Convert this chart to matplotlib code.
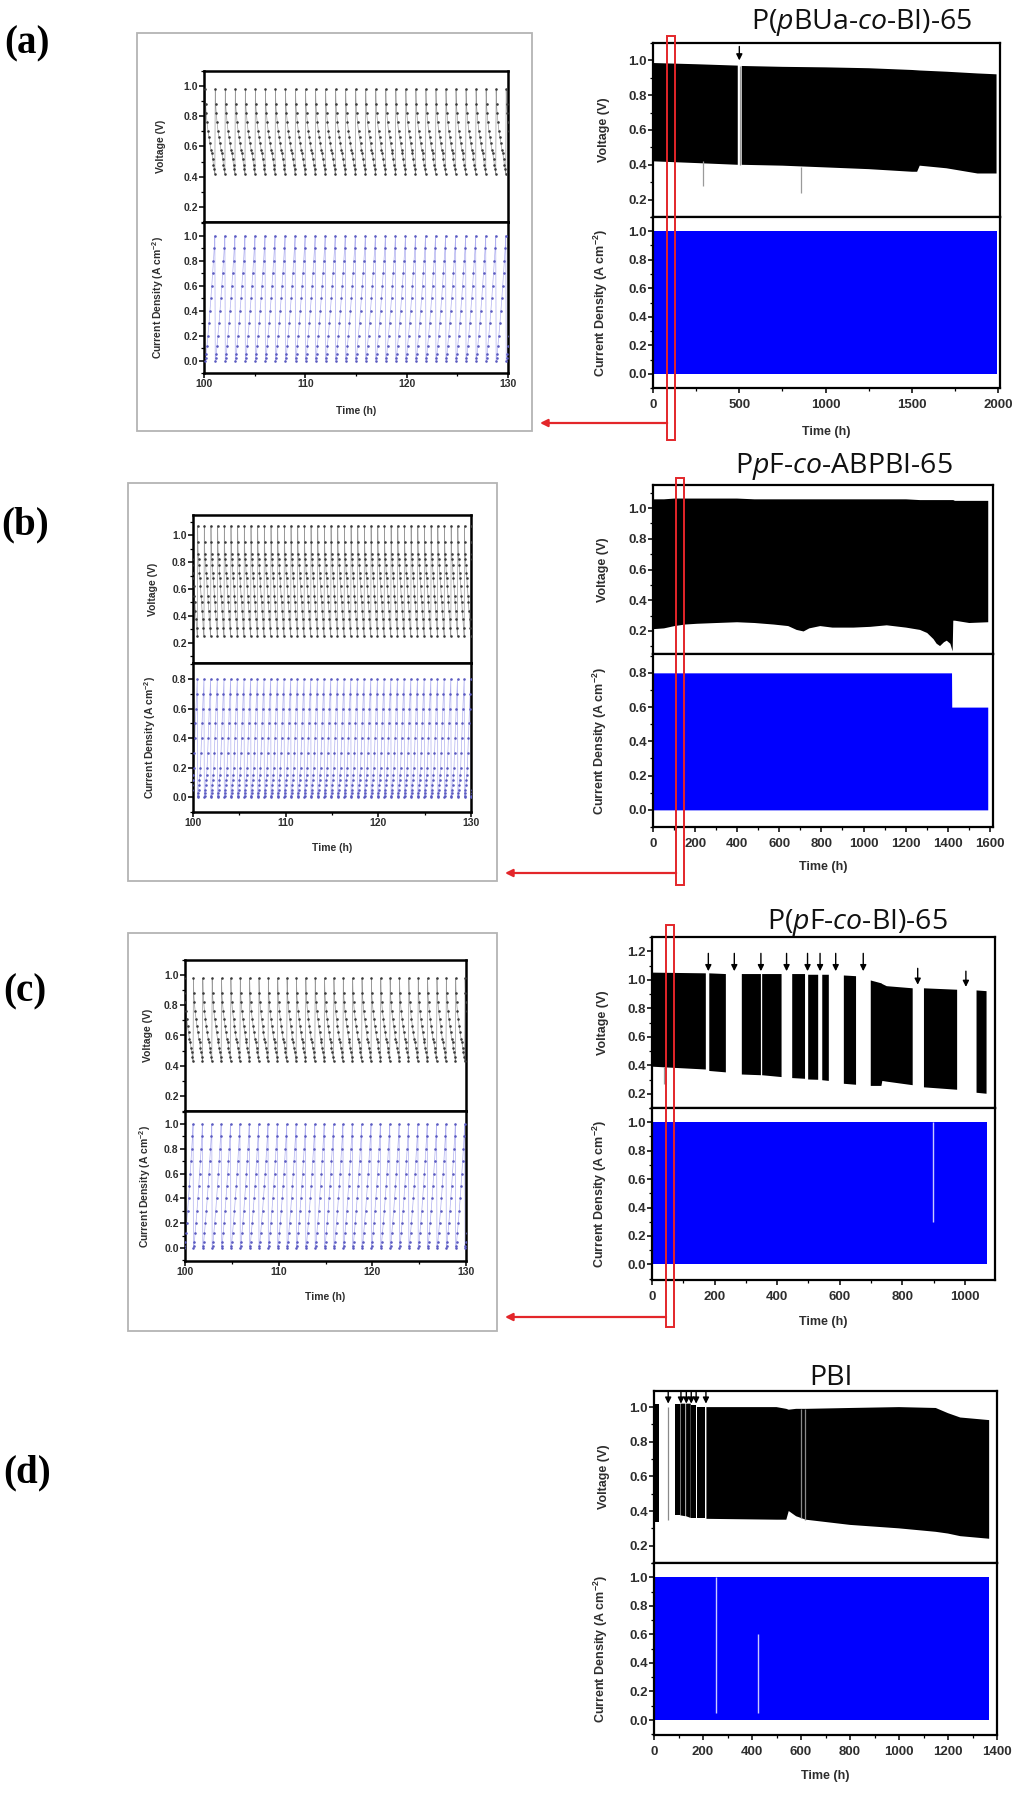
import numpy as np
import matplotlib
matplotlib.use('Agg')
import matplotlib.pyplot as plt
from matplotlib.patches import Rectangle, FancyArrowPatch
from matplotlib.ticker import MultipleLocator, FormatStrFormatter

nan = np.nan

# ---------------- data ----------------
titles = [r'P($\mathit{p}$BUa-$\mathit{co}$-BI)-65', r'P$\mathit{p}$F-$\mathit{co}$-ABPBI-65',
          r'P($\mathit{p}$F-$\mathit{co}$-BI)-65', 'PBI']
panel_labels = ['(a)', '(b)', '(c)', '(d)']

# long-term voltage envelopes (upper / lower edge of the cycling band)
a_t = [0, 250, 491, 502, 514, 750, 1000, 1250, 1500, 1530, 1545, 1700, 1880, 1990]
a_up = [0.985, 0.978, 0.97, nan, 0.968, 0.963, 0.96, 0.955, 0.945, 0.943, 0.942, 0.935, 0.925, 0.92]
a_lo = [0.42, 0.41, 0.40, nan, 0.40, 0.395, 0.385, 0.375, 0.36, 0.36, 0.395, 0.38, 0.35, 0.35]

b_t = [0, 50, 100, 150, 207, 300, 397, 480, 571, 640, 680, 713, 740, 792, 850, 950,
       1030, 1108, 1200, 1266, 1300, 1330, 1345, 1361, 1380, 1393, 1410, 1421, 1424, 1432, 1500, 1590]
b_up = [1.06, 1.06, 1.065, 1.065, 1.065, 1.065, 1.065, 1.06, 1.06, 1.06, 1.06, 1.06, 1.06, 1.06, 1.06, 1.06,
        1.06, 1.06, 1.06, 1.055, 1.055, 1.055, 1.055, 1.055, 1.055, 1.055, 1.055, 1.055, 1.055, 1.05, 1.05, 1.05]
b_lo = [0.215, 0.22, 0.235, 0.245, 0.25, 0.255, 0.26, 0.255, 0.245, 0.235, 0.21, 0.20, 0.22, 0.235, 0.225, 0.225,
        0.23, 0.24, 0.225, 0.21, 0.19, 0.15, 0.12, 0.105, 0.13, 0.14, 0.12, 0.07, 0.27, 0.27, 0.255, 0.26]

c_t = [0, 172, 177, 183, 236, 260, 287, 348, 350, 352, 414, 430, 448, 489, 494, 499, 531, 537, 544, 565,
       590, 613, 652, 675, 699, 733, 736, 750, 833, 850, 869, 975, 1005, 1037, 1069]
c_up = [1.05, 1.045, nan, 1.045, 1.04, nan, 1.04, 1.04, nan, 1.04, 1.04, nan, 1.04, 1.04, nan, 1.035, 1.035, nan,
        1.035, 1.035, nan, 1.03, 1.025, nan, 0.995, 0.975, 0.97, 0.955, 0.94, nan, 0.94, 0.93, nan, 0.925, 0.92]
c_lo = [0.39, 0.37, nan, 0.36, 0.35, nan, 0.335, 0.33, nan, 0.33, 0.317, nan, 0.31, 0.305, nan, 0.30, 0.298, nan,
        0.295, 0.29, nan, 0.27, 0.263, nan, 0.255, 0.255, 0.29, 0.285, 0.26, nan, 0.245, 0.228, nan, 0.207, 0.20]

d_t = [0, 22, 50, 85, 105, 106, 108, 128, 129, 131, 150, 151, 153, 170, 172, 175, 208, 211, 214,
       500, 540, 550, 580, 620, 800, 1000, 1150, 1200, 1250, 1368]
d_up = [1.02, 1.02, nan, 1.02, 1.02, nan, 1.02, 1.02, nan, 1.02, 1.02, nan, 1.01, 1.01, nan, 1.0, 1.0, nan, 1.0,
        1.0, 0.99, 0.985, 0.99, 0.99, 0.995, 1.0, 0.995, 0.965, 0.94, 0.925]
d_lo = [0.335, 0.335, nan, 0.375, 0.375, nan, 0.375, 0.37, nan, 0.37, 0.36, nan, 0.36, 0.36, nan, 0.36, 0.36, nan,
        0.355, 0.35, 0.35, 0.40, 0.37, 0.35, 0.32, 0.30, 0.28, 0.27, 0.255, 0.24]

# long-term current density (upper edge of band, lower edge at 0)
a_jt = [0, 1995]
a_jhi = [1.0, 1.0]
b_jt = [0, 1418, 1419, 1590]
b_jhi = [0.8, 0.8, 0.6, 0.6]
c_jt = [0, 1072]
c_jhi = [1.0, 1.0]
d_jt = [0, 1368]
d_jhi = [1.0, 1.0]

# isolated traces in voltage plots (grey) and gaps in current plots (light)
a_vline_t = [289, 855, 502]
a_vline_lo = [0.28, 0.24, 0.40]
a_vline_hi = [0.42, 0.39, 0.97]
c_vline_t = [38]
c_vline_lo = [0.27]
c_vline_hi = [0.39]
d_vline_t = [59, 598, 618]
d_vline_lo = [0.35, 0.36, 0.35]
d_vline_hi = [1.0, 0.99, 0.99]
c_jgap_t = [899]
c_jgap_lo = [0.3]
c_jgap_hi = [1.0]
d_jgap_t = [254, 424]
d_jgap_lo = [0.05, 0.05]
d_jgap_hi = [1.0, 0.6]

# arrows marking interruptions
a_arrow_t = [500]
a_arrow_tip = [1.0]
a_arrow_tail = [1.08]
c_arrow_t = [180, 263, 348, 430, 497, 537, 587, 675, 849, 1003]
c_arrow_tip = [1.06, 1.06, 1.06, 1.06, 1.06, 1.06, 1.06, 1.06, 0.965, 0.95]
c_arrow_tail = [1.185, 1.185, 1.185, 1.185, 1.185, 1.185, 1.185, 1.185, 1.08, 1.06]
d_arrow_t = [58, 110, 132, 152, 172, 212]
d_arrow_tip = [1.02, 1.02, 1.02, 1.02, 1.02, 1.02]
d_arrow_tail = [1.09, 1.09, 1.09, 1.09, 1.09, 1.09]

# zoom windows (red boxes) on the long-term plots
zoom_t = [(82, 126), (110, 148), (45, 70)]

# inset cycle profiles (one load cycle)
a_cyc_frac = [0.0, 0.04, 0.10, 0.18, 0.28, 0.38, 0.48, 0.57, 0.66, 0.74, 0.82, 0.90, 0.96]
a_cyc_J = [0.0, 0.02, 0.05, 0.12, 0.2, 0.3, 0.4, 0.5, 0.6, 0.7, 0.8, 0.9, 1.0]
a_cyc_V = [0.98, 0.88, 0.82, 0.76, 0.70, 0.66, 0.62, 0.58, 0.56, 0.52, 0.48, 0.45, 0.42]
a_cyc_start = [100.12 + 0.99 * k for k in range(31)]

b_cyc_frac = [0.0, 0.03, 0.08, 0.13, 0.2, 0.27, 0.34, 0.42, 0.5, 0.58, 0.66, 0.75, 0.85, 0.95]
b_cyc_J = [0.0, 0.01, 0.03, 0.05, 0.08, 0.12, 0.15, 0.2, 0.3, 0.4, 0.5, 0.6, 0.7, 0.8]
b_cyc_V = [1.07, 0.95, 0.86, 0.82, 0.78, 0.72, 0.68, 0.62, 0.55, 0.50, 0.44, 0.38, 0.31, 0.25]
b_cyc_start = [99.78 + 0.72 * k for k in range(43)]

c_cyc_frac = a_cyc_frac
c_cyc_J = [0.0, 0.02, 0.05, 0.12, 0.2, 0.3, 0.4, 0.5, 0.6, 0.7, 0.8, 0.9, 1.0]
c_cyc_V = [0.98, 0.88, 0.82, 0.76, 0.71, 0.66, 0.62, 0.58, 0.56, 0.52, 0.49, 0.46, 0.43]
c_cyc_start = [99.9 + 1.0 * k for k in range(31)]

# ---------------- figure ----------------
plt.rcParams['font.family'] = ['Liberation Sans', 'DejaVu Sans']
plt.rcParams['mathtext.fontset'] = 'custom'
plt.rcParams['mathtext.rm'] = 'Liberation Sans'
plt.rcParams['mathtext.bf'] = 'Liberation Sans:bold'
plt.rcParams['mathtext.it'] = 'Open Sans:italic'

W, H = 1024, 1793
fig = plt.figure(figsize=(W / 100, H / 100), dpi=100)
fig.patch.set_facecolor('white')

TICKC = '#2e2e2e'
RED = '#e3262a'
BLUE = '#0000ff'


def ax_px(l, t, r, b):
    return fig.add_axes([l / W, 1 - b / H, (r - l) / W, (b - t) / H])


def style(ax, fs, xpad, bottom=True, lw=1.6):
    for s in ax.spines.values():
        s.set_linewidth(lw)
    ax.tick_params(which='major', direction='out', length=3.5, width=1.1, labelsize=fs,
                   pad=1.0, top=False, right=False, labelcolor=TICKC)
    ax.tick_params(which='minor', direction='out', length=2.0, width=0.9, top=False, right=False)
    ax.tick_params(axis='x', which='major', pad=xpad)
    ax.tick_params(axis='x', which='both', bottom=bottom, labelbottom=bottom)
    for lab in ax.get_xticklabels() + ax.get_yticklabels():
        lab.set_fontweight('bold')


def place_labels(axv, axj, box_v, box_j, ylab_x, xlab_y, fs):
    lv, tv, rv, bv = box_v
    lj, tj, rj, bj = box_j
    axv.set_ylabel('Voltage (V)', fontsize=fs, color=TICKC, fontweight='bold')
    axj.set_ylabel(r'Current Density (A cm$^{\mathbf{-2}}$)', fontsize=fs, color=TICKC, fontweight='bold')
    axj.set_xlabel('Time (h)', fontsize=fs, color=TICKC, fontweight='bold')
    axv.yaxis.set_label_coords((ylab_x + 7 - lv) / (rv - lv), 0.5)
    axj.yaxis.set_label_coords((ylab_x + 7 - lj) / (rj - lj), 0.5)
    axj.xaxis.set_label_coords(0.5, -(xlab_y - 7 - bj) / (bj - tj))


def set_ticks(axv, axj, vlim, jlim):
    axv.set_ylim(*vlim)
    axj.set_ylim(*jlim)
    axv.set_yticks([v for v in np.arange(0.2, vlim[1], 0.2)])
    axj.set_yticks([v for v in np.arange(0.0, jlim[1] - 0.01, 0.2)])
    for ax in (axv, axj):
        ax.yaxis.set_minor_locator(MultipleLocator(0.1))
        ax.yaxis.set_major_formatter(FormatStrFormatter('%.1f'))


def main_panel(vbox, jbox, xlim, xmaj, xmin, vlim, jlim, t, up, lo, jt, jhi, ylab_x, xlab_y):
    axv = ax_px(*vbox)
    axj = ax_px(*jbox)
    axv.fill_between(t, lo, up, color='black', lw=0, zorder=2)
    axj.fill_between(jt, [0.0] * len(jt), jhi, color=BLUE, lw=0, zorder=2)
    for ax in (axv, axj):
        ax.set_xlim(*xlim)
        ax.xaxis.set_major_locator(MultipleLocator(xmaj))
        ax.xaxis.set_minor_locator(MultipleLocator(xmin))
    set_ticks(axv, axj, vlim, jlim)
    style(axv, 9.5, 4.5, bottom=False)
    style(axj, 9.5, 4.5, bottom=True)
    place_labels(axv, axj, vbox, jbox, ylab_x, xlab_y, 9)
    return axv, axj


def inset_panel(vbox, jbox, vlim, jlim, frac, cj, cv, starts, box, ylab_x, xlab_y):
    axv = ax_px(*vbox)
    axj = ax_px(*jbox)
    tt, vv, jj = [], [], []
    per = starts[1] - starts[0]
    for s0 in starts:
        for f, j, v in zip(frac, cj, cv):
            tt.append(s0 + f * per)
            vv.append(v)
            jj.append(j)
    axv.plot(tt, vv, color='#9a9a9a', lw=0.5, zorder=2)
    axv.plot(tt, vv, ls='none', marker='.', ms=1.7, color='#3a3a3a', zorder=3)
    axj.plot(tt, jj, color='#b0b0f0', lw=0.5, zorder=2)
    axj.plot(tt, jj, ls='none', marker='.', ms=1.7, color='#5a5ac0', zorder=3)
    for ax in (axv, axj):
        ax.set_xlim(100, 130)
        ax.xaxis.set_major_locator(MultipleLocator(10))
        ax.xaxis.set_minor_locator(MultipleLocator(5))
    set_ticks(axv, axj, vlim, jlim)
    style(axv, 7.5, 1.0, bottom=False, lw=1.8)
    style(axj, 7.5, 1.0, bottom=True, lw=1.8)
    place_labels(axv, axj, vbox, jbox, ylab_x, xlab_y, 7.5)
    l, t, r, b = box
    fig.add_artist(Rectangle((l / W, 1 - b / H), (r - l) / W, (b - t) / H, transform=fig.transFigure,
                             fill=False, ec='#b4b4b4', lw=1.3, zorder=1))
    return axv, axj


def vlines(ax, ts, los, his, color, lw):
    ax.vlines(ts, los, his, colors=color, lw=lw, zorder=3)


def arrows(ax, ts, tips, tails):
    for x, tip, tail in zip(ts, tips, tails):
        ax.annotate('', xy=(x, tip), xytext=(x, tail),
                    arrowprops=dict(arrowstyle='-|>', color='black', lw=1.0, mutation_scale=9,
                                    shrinkA=0, shrinkB=0), zorder=4)


def zoom_marker(ax, t0, t1, ytop, ybot, yarrow, xtip):
    x0 = ax.transData.transform((t0, 0))[0]
    x1 = ax.transData.transform((t1, 0))[0]
    fig.add_artist(Rectangle((x0 / W, 1 - ybot / H), (x1 - x0) / W, (ybot - ytop) / H,
                             transform=fig.transFigure, fill=False, ec=RED, lw=1.4, zorder=6))
    fig.add_artist(FancyArrowPatch((x0 / W, 1 - yarrow / H), (xtip / W, 1 - yarrow / H),
                                   transform=fig.transFigure, arrowstyle='-|>', color=RED,
                                   lw=1.6, mutation_scale=11, shrinkA=0, shrinkB=0, zorder=6))


# ---- (a) ----
av, aj = main_panel((653, 43, 1000, 217), (653, 217, 1000, 388), (0, 2010), 500, 250,
                    (0.1, 1.1), (-0.1, 1.1), a_t, a_up, a_lo, a_jt, a_jhi, 603, 433)
vlines(av, a_vline_t, a_vline_lo, a_vline_hi, '#9a9a9a', 0.9)
arrows(av, a_arrow_t, a_arrow_tip, a_arrow_tail)
inset_panel((204, 71, 508, 222), (204, 222, 508, 373), (0.1, 1.1), (-0.1, 1.11),
            a_cyc_frac, a_cyc_J, a_cyc_V, a_cyc_start, (137, 33, 532, 431), 159, 413)

# ---- (b) ----
bv, bj = main_panel((653, 485, 993, 654), (653, 654, 993, 827), (0, 1615), 200, 100,
                    (0.05, 1.15), (-0.1, 0.91), b_t, b_up, b_lo, b_jt, b_jhi, 602, 868)
inset_panel((193, 515, 471, 663), (193, 663, 471, 812), (0.05, 1.15), (-0.1, 0.91),
            b_cyc_frac, b_cyc_J, b_cyc_V, b_cyc_start, (128, 483, 497, 881), 151, 850)

# ---- (c) ----
cv, cj = main_panel((652, 937, 995, 1108), (652, 1108, 995, 1280), (0, 1096), 200, 100,
                    (0.1, 1.3), (-0.11, 1.1), c_t, c_up, c_lo, c_jt, c_jhi, 602, 1323)
vlines(cv, c_vline_t, c_vline_lo, c_vline_hi, '#9a9a9a', 0.9)
vlines(cj, c_jgap_t, c_jgap_lo, c_jgap_hi, '#c8c8ff', 1.0)
arrows(cv, c_arrow_t, c_arrow_tip, c_arrow_tail)
inset_panel((185, 960, 466, 1111), (185, 1111, 466, 1261), (0.1, 1.1), (-0.105, 1.105),
            c_cyc_frac, c_cyc_J, c_cyc_V, c_cyc_start, (128, 933, 497, 1331), 146, 1299)

# ---- (d) ----
dv, dj = main_panel((654, 1391, 997, 1563), (654, 1563, 997, 1735), (0, 1400), 200, 100,
                    (0.1, 1.093), (-0.105, 1.1), d_t, d_up, d_lo, d_jt, d_jhi, 603, 1777)
vlines(dv, d_vline_t, d_vline_lo, d_vline_hi, '#8a8a8a', 0.9)
vlines(dj, d_jgap_t, d_jgap_lo, d_jgap_hi, '#c8c8ff', 1.0)
arrows(dv, d_arrow_t, d_arrow_tip, d_arrow_tail)

# zoom markers (red boxes + arrows to the insets)
zoom_marker(av, zoom_t[0][0], zoom_t[0][1], 36, 440, 423, 540)
zoom_marker(bv, zoom_t[1][0], zoom_t[1][1], 478, 885, 873, 505)
zoom_marker(cv, zoom_t[2][0], zoom_t[2][1], 925, 1327, 1317, 505)

# titles
title_pos = [(862, 23), (844, 467), (857, 922), (831, 1378)]
for txt, (x, y) in zip(titles, title_pos):
    fig.text(x / W, 1 - y / H, txt, ha='center', va='center', fontsize=20.5,
             family=['Open Sans', 'DejaVu Sans'], color='#111111')

# panel labels
label_pos = [(27, 44), (25, 525), (25, 992), (27, 1473)]
for txt, (x, y) in zip(panel_labels, label_pos):
    fig.text(x / W, 1 - y / H, txt, ha='center', va='center', fontsize=28, fontweight='bold',
             family=['Liberation Serif', 'DejaVu Serif'])

fig.savefig('out.png', dpi=100, facecolor='white')
